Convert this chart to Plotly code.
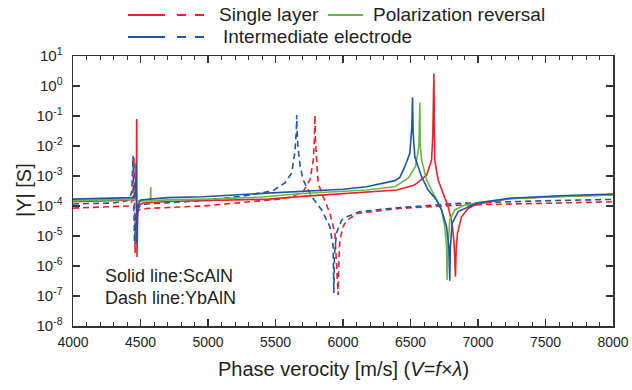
import plotly.graph_objects as go

# ---------------- data ----------------
red_solid_x = [4000, 4200, 4400, 4455, 4466, 4470, 4472, 4473, 4474, 4476, 4480, 4490, 4520, 4700,
               5000, 5450, 5700, 6000, 6200, 6400, 6530, 6620, 6656, 6665, 6673, 6677, 6680, 6705,
               6742, 6779, 6808, 6823, 6833, 6838, 6848, 6878, 6927, 6976, 7013, 7235, 7605, 8000]
red_solid_y = [1.38e-4, 1.45e-4, 1.55e-4, 1.7e-4, 2.5e-4, 1.0e-3, 7.9e-2, 1.0e-4, 2.0e-6, 1.5e-5, 7.9e-5, 1.1e-4, 1.26e-4, 1.42e-4,
               1.5e-4, 1.7e-4, 2.1e-4, 2.6e-4, 3.0e-4, 3.4e-4, 5.0e-4, 1.07e-3, 3.39e-3, 2.04e-2, 2.63, 2.5e-2, 3.39e-3, 7.4e-4,
               2.63e-4, 9.5e-5, 2.63e-5, 5.75e-6, 4.37e-7, 3.16e-6, 1.23e-5, 4.37e-5, 8.3e-5, 1.07e-4, 1.2e-4, 1.74e-4, 2.1e-4, 2.34e-4]

green_solid_x = [4000, 4300, 4460, 4480, 4570, 4574, 4576, 4578, 4582, 4700, 5000, 5400, 5700, 6000, 6175,
                 6384, 6421, 6482, 6537, 6562, 6569, 6573, 6582, 6619, 6680, 6730, 6754, 6767, 6771, 6775,
                 6791, 6828, 6902, 6976, 7235, 7605, 8000]
green_solid_y = [1.51e-4, 1.55e-4, 1.66e-4, 1.45e-4, 1.5e-4, 2.0e-4, 4.3e-4, 1.4e-4, 1.5e-4, 1.6e-4, 1.7e-4, 2.0e-4, 2.6e-4, 3.0e-4, 3.4e-4,
                 4.4e-4, 5.75e-4, 8.5e-4, 2.04e-3, 9.5e-3, 0.28, 1.0e-2, 3.39e-3, 7.4e-4, 2.04e-4, 7.4e-5, 2.04e-5, 4.37e-6, 3.4e-7, 3.0e-6,
                 3.4e-5, 7.4e-5, 1.07e-4, 1.23e-4, 1.78e-4, 2.1e-4, 2.4e-4]

blue_solid_x = [4000, 4300, 4440, 4460, 4466, 4468, 4470, 4472, 4475, 4480, 4500, 4700, 4963, 5406, 5680,
                6000, 6175, 6384, 6421, 6458, 6495, 6510, 6515, 6519, 6532, 6582, 6631, 6693, 6730, 6767,
                6784, 6791, 6795, 6808, 6853, 6976, 7013, 7235, 7605, 8000]
blue_solid_y = [1.7e-4, 1.78e-4, 1.9e-4, 2.5e-4, 6.0e-4, 2.7e-3, 1.0e-4, 6.0e-6, 3.0e-5, 1.0e-4, 1.58e-4, 1.9e-4, 2.04e-4, 2.63e-4, 3.0e-4,
                3.6e-4, 4.37e-4, 7.0e-4, 9.0e-4, 2.04e-3, 5.75e-3, 4.37e-2, 0.42, 3.0e-2, 4.37e-3, 9.5e-4, 3.39e-4, 1.58e-4, 7.4e-5, 2.04e-5,
                4.37e-6, 3.2e-7, 4.0e-6, 2.63e-5, 6.5e-5, 1.17e-4, 1.3e-4, 1.82e-4, 2.2e-4, 2.5e-4]

red_dash_x = [4000, 4300, 4420, 4440, 4447, 4452, 4455, 4458, 4460, 4464, 4470, 4490, 4550, 4963, 5458,
              5508, 5607, 5705, 5755, 5780, 5788, 5792, 5796, 5800, 5816, 5853, 5903, 5940, 5952, 5964,
              5969, 5977, 6000, 6027, 6112, 6421, 6865, 7500, 8000]
red_dash_y = [8.5e-5, 9.3e-5, 1.0e-4, 1.58e-4, 5.0e-4, 4.0e-3, 5.0e-4, 1.0e-5, 2.7e-6, 1.5e-5, 5.0e-5, 7.6e-5, 8.3e-5, 1.0e-4, 1.51e-4,
              1.66e-4, 1.95e-4, 3.0e-4, 7.4e-4, 3.39e-3, 1.6e-2, 0.107, 1.5e-2, 6.3e-3, 5.75e-4, 2.04e-4, 5.75e-5, 1.23e-5, 1.58e-6, 1.07e-7,
              1.5e-6, 7.4e-6, 2.0e-5, 3.39e-5, 5.75e-5, 8.3e-5, 1.07e-4, 1.26e-4, 1.38e-4]

blue_dash_x = [4000, 4300, 4400, 4422, 4436, 4441, 4445, 4448, 4451, 4455, 4460, 4470, 4500, 4546, 4963,
               5259, 5481, 5570, 5620, 5644, 5654, 5657, 5660, 5666, 5683, 5705, 5768, 5842, 5903, 5927,
               5932, 5937, 5952, 5990, 6027, 6125, 6421, 6865, 7500, 8000]
blue_dash_y = [1.17e-4, 1.26e-4, 1.5e-4, 1.86e-4, 3.2e-4, 1.0e-3, 4.7e-3, 1.0e-3, 1.0e-4, 6.0e-6, 2.0e-5, 7.0e-5, 1.07e-4, 1.17e-4, 1.51e-4,
               2.14e-4, 3.24e-4, 5.9e-4, 1.26e-3, 6.3e-3, 3.0e-2, 0.107, 3.0e-2, 1.0e-2, 2.04e-3, 7.4e-4, 2.04e-4, 7.4e-5, 2.04e-5, 4.37e-6,
               1.26e-7, 2.5e-6, 1.26e-5, 3.4e-5, 4.37e-5, 6.5e-5, 8.9e-5, 1.23e-4, 1.5e-4, 1.66e-4]

x_tick_vals = [4000, 4500, 5000, 5500, 6000, 6500, 7000, 7500, 8000]
y_tick_vals = [1e1, 1e0, 1e-1, 1e-2, 1e-3, 1e-4, 1e-5, 1e-6, 1e-7, 1e-8]
y_tick_text = ["10<sup>1</sup>", "10<sup>0</sup>", "10<sup>-1</sup>", "10<sup>-2</sup>", "10<sup>-3</sup>",
               "10<sup>-4</sup>", "10<sup>-5</sup>", "10<sup>-6</sup>", "10<sup>-7</sup>", "10<sup>-8</sup>"]

legend_single = "Single layer"
legend_pol = "Polarization reversal"
legend_inter = "Intermediate electrode"
note_solid = "Solid line:ScAlN"
note_dash = "Dash line:YbAlN"

# ---------------- styling ----------------
RED = "#e8212b"
GREEN = "#67b846"
BLUE = "#1f55a5"
TXT = "#231f20"
FONT = "Liberation Sans, Arial, sans-serif"
W, H = 632, 390
L, R, T, B = 73, 19, 56, 64
PW, PH = W - L - R, H - T - B
LW = 1.6
DASH = "6px,4px"


def px(xp):
    return (xp - L) / PW


def py(yp):
    return (H - B - yp) / PH


fig = go.Figure()
series = [
    (red_dash_x, red_dash_y, RED, DASH),
    (blue_dash_x, blue_dash_y, BLUE, DASH),
    (red_solid_x, red_solid_y, RED, "solid"),
    (green_solid_x, green_solid_y, GREEN, "solid"),
    (blue_solid_x, blue_solid_y, BLUE, "solid"),
]
for xs, ys, c, d in series:
    fig.add_trace(go.Scatter(x=xs, y=ys, mode="lines", line=dict(color=c, width=LW, dash=d),
                             showlegend=False, hoverinfo="skip"))

shapes = []
for (x0, x1, yy, c, d) in [(128, 165, 15, RED, "solid"), (177, 210, 15, RED, "dash"),
                           (328, 363, 15, GREEN, "solid"),
                           (128, 165, 37, BLUE, "solid"), (177, 210, 37, BLUE, "dash")]:
    shapes.append(dict(type="line", xref="paper", yref="paper", x0=px(x0), x1=px(x1), y0=py(yy), y1=py(yy),
                       line=dict(color=c, width=2, dash=d)))

annotations = []
for (txt, xx, yy, size) in [(legend_single, 217, 15, 19), (legend_pol, 371, 15, 19),
                            (legend_inter, 221, 37, 19), (note_solid, 103, 276, 18),
                            (note_dash, 103, 298, 18)]:
    annotations.append(dict(text=txt, xref="paper", yref="paper", x=px(xx), y=py(yy), xanchor="left",
                            yanchor="middle", showarrow=False, font=dict(family=FONT, size=size, color=TXT)))
annotations.append(dict(text="Phase verocity [m/s] (<i>V</i>=<i>f</i>×<i>λ</i>)", xref="paper", yref="paper",
                        x=px(343), y=py(369), xanchor="center", yanchor="middle", showarrow=False,
                        font=dict(family=FONT, size=20, color=TXT)))
annotations.append(dict(text="|Y| [S]", xref="paper", yref="paper", x=px(24), y=py(190), xanchor="center",
                        yanchor="middle", showarrow=False, textangle=-90,
                        font=dict(family=FONT, size=20, color=TXT)))

fig.update_layout(
    width=W, height=H, margin=dict(l=L, r=R, t=T, b=B, autoexpand=False),
    paper_bgcolor="white", plot_bgcolor="white",
    shapes=shapes, annotations=annotations, showlegend=False,
    font=dict(family=FONT, color=TXT),
)
fig.update_xaxes(range=[4000, 8000], tickvals=x_tick_vals, ticks="inside", ticklen=7, tickwidth=1.2,
                 tickcolor="#333", showline=True, linecolor="#333", linewidth=1.5, mirror="ticks",
                 showgrid=False, zeroline=False, tickfont=dict(family=FONT, size=14, color=TXT),
                 ticklabelstandoff=3, automargin=False,
                 minor=dict(dtick=100, tick0=4000, ticks="inside", ticklen=4, tickwidth=1, tickcolor="#333",
                            showgrid=False))
fig.update_yaxes(type="log", range=[-8, 1], tickvals=y_tick_vals, ticktext=y_tick_text, ticks="inside",
                 ticklen=7, tickwidth=1.2, tickcolor="#333", showline=True, linecolor="#333", linewidth=1.5,
                 mirror="ticks", showgrid=False, zeroline=False, automargin=False,
                 tickfont=dict(family=FONT, size=15, color=TXT), ticklabelstandoff=6)

fig.write_html("out.html", config={"displayModeBar": False, "staticPlot": True},
               post_script="document.body.style.margin='0';document.body.style.overflow='hidden';")
